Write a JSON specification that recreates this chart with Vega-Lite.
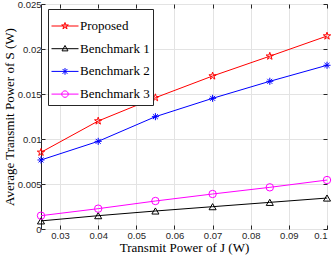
{
  "$schema": "https://vega.github.io/schema/vega-lite/v6.json",
  "width": 286,
  "height": 225,
  "autosize": {"type": "none"},
  "padding": {"left": 41, "top": 4, "right": 5, "bottom": 30},
  "background": "white",
  "config": {"view": {"stroke": "#262626", "strokeWidth": 1}},
  "data": {"values": [
    {"x": 0.025, "y": 0.00852, "series": "Proposed"},
    {"x": 0.04, "y": 0.0120, "series": "Proposed"},
    {"x": 0.055, "y": 0.01459, "series": "Proposed"},
    {"x": 0.07, "y": 0.0170, "series": "Proposed"},
    {"x": 0.085, "y": 0.0192, "series": "Proposed"},
    {"x": 0.1, "y": 0.02144, "series": "Proposed"},
    {"x": 0.025, "y": 0.0009, "series": "Benchmark 1"},
    {"x": 0.04, "y": 0.00148, "series": "Benchmark 1"},
    {"x": 0.055, "y": 0.0020, "series": "Benchmark 1"},
    {"x": 0.07, "y": 0.00248, "series": "Benchmark 1"},
    {"x": 0.085, "y": 0.00296, "series": "Benchmark 1"},
    {"x": 0.1, "y": 0.00344, "series": "Benchmark 1"},
    {"x": 0.025, "y": 0.00767, "series": "Benchmark 2"},
    {"x": 0.04, "y": 0.00974, "series": "Benchmark 2"},
    {"x": 0.055, "y": 0.01248, "series": "Benchmark 2"},
    {"x": 0.07, "y": 0.01452, "series": "Benchmark 2"},
    {"x": 0.085, "y": 0.01641, "series": "Benchmark 2"},
    {"x": 0.1, "y": 0.01819, "series": "Benchmark 2"},
    {"x": 0.025, "y": 0.00148, "series": "Benchmark 3"},
    {"x": 0.04, "y": 0.00226, "series": "Benchmark 3"},
    {"x": 0.055, "y": 0.00311, "series": "Benchmark 3"},
    {"x": 0.07, "y": 0.00389, "series": "Benchmark 3"},
    {"x": 0.085, "y": 0.00463, "series": "Benchmark 3"},
    {"x": 0.1, "y": 0.00544, "series": "Benchmark 3"}
  ]},
  "layer": [
    {
      "mark": {"type": "line", "strokeWidth": 1},
      "encoding": {
        "x": {
          "field": "x", "type": "quantitative",
          "scale": {"domain": [0.025, 0.1], "nice": false, "zero": false},
          "axis": {
            "orient": "bottom",
            "values": [0.03, 0.04, 0.05, 0.06, 0.07, 0.08, 0.09, 0.1],
            "format": ".2~f",
            "grid": true, "gridColor": "#e3e3e3", "domain": false,
            "tickSize": -4, "tickColor": "#262626",
            "labelFont": "Liberation Sans", "labelFontSize": 9.5, "labelColor": "#262626", "labelPadding": 5,
            "title": "Transmit Power of J (W)",
            "titleFont": "Liberation Serif", "titleFontSize": 13, "titleFontWeight": "normal", "titleColor": "black", "titlePadding": 2
          }
        },
        "y": {
          "field": "y", "type": "quantitative",
          "scale": {"domain": [0, 0.025], "nice": false, "zero": true},
          "axis": {
            "orient": "left",
            "values": [0, 0.005, 0.01, 0.015, 0.02, 0.025],
            "format": ".3~f",
            "grid": true, "gridColor": "#e3e3e3", "domain": false,
            "tickSize": -4, "tickColor": "#262626",
            "labelFont": "Liberation Sans", "labelFontSize": 9.5, "labelColor": "#262626", "labelPadding": 4,
            "title": "Average Transmit Power of S (W)",
            "titleFont": "Liberation Serif", "titleFontSize": 13, "titleFontWeight": "normal", "titleColor": "black", "titlePadding": 1
          }
        },
        "stroke": {
          "field": "series", "type": "nominal",
          "scale": {
            "domain": ["Proposed", "Benchmark 1", "Benchmark 2", "Benchmark 3"],
            "range": ["#ff0000", "#000000", "#0000ff", "#ff00ff"]
          },
          "legend": {
            "orient": "none", "legendX": 7, "legendY": 5, "title": null,
            "padding": 3, "rowPadding": 1.7,
            "strokeColor": "#262626", "fillColor": "white", "cornerRadius": 0,
            "symbolSize": 729, "symbolStrokeWidth": 1, "symbolOpacity": 1,
            "labelOffset": 1, "labelFont": "Liberation Serif", "labelFontSize": 13, "labelColor": "black"
          }
        }
      }
    },
    {
      "transform": [{"filter": "datum.series === 'Proposed'"}],
      "mark": {"type": "point", "filled": false, "size": 60, "strokeWidth": 1, "opacity": 1, "color": "#ff0000",
               "shape": "M0,-1L0.2245,-0.309L0.951,-0.309L0.363,0.118L0.588,0.809L0,0.382L-0.588,0.809L-0.363,0.118L-0.951,-0.309L-0.2245,-0.309Z"},
      "encoding": {
        "x": {
          "field": "x", "type": "quantitative",
          "axis": {
            "orient": "top",
            "values": [0.03, 0.04, 0.05, 0.06, 0.07, 0.08, 0.09, 0.1],
            "labels": false, "grid": false, "domain": false, "title": null,
            "tickSize": -4, "tickColor": "#262626"
          }
        },
        "y": {
          "field": "y", "type": "quantitative",
          "axis": {
            "orient": "right",
            "values": [0, 0.005, 0.01, 0.015, 0.02, 0.025],
            "labels": false, "grid": false, "domain": false, "title": null,
            "tickSize": -4, "tickColor": "#262626"
          }
        }
      }
    },
    {
      "transform": [{"filter": "datum.series === 'Benchmark 1'"}],
      "mark": {"type": "point", "filled": false, "size": 50, "strokeWidth": 1, "opacity": 1, "color": "#000000", "shape": "triangle-up"},
      "encoding": {
        "x": {"field": "x", "type": "quantitative", "axis": null},
        "y": {"field": "y", "type": "quantitative", "axis": null}
      }
    },
    {
      "transform": [{"filter": "datum.series === 'Benchmark 2'"}],
      "mark": {"type": "point", "filled": false, "size": 50, "strokeWidth": 1, "opacity": 1, "color": "#0000ff",
               "shape": "M-1,0L1,0M0,-1L0,1M-0.7,-0.7L0.7,0.7M-0.7,0.7L0.7,-0.7"},
      "encoding": {
        "x": {"field": "x", "type": "quantitative", "axis": null},
        "y": {"field": "y", "type": "quantitative", "axis": null}
      }
    },
    {
      "transform": [{"filter": "datum.series === 'Benchmark 3'"}],
      "mark": {"type": "point", "filled": false, "size": 55, "strokeWidth": 1, "opacity": 1, "color": "#ff00ff", "shape": "circle"},
      "encoding": {
        "x": {"field": "x", "type": "quantitative", "axis": null},
        "y": {"field": "y", "type": "quantitative", "axis": null}
      }
    },
    {
      "mark": {"type": "point", "filled": false, "strokeWidth": 1, "opacity": 0},
      "encoding": {
        "x": {"field": "x", "type": "quantitative", "axis": null},
        "y": {"field": "y", "type": "quantitative", "axis": null},
        "stroke": {
          "field": "series", "type": "nominal",
          "legend": {
            "orient": "none", "legendX": 7, "legendY": 5, "title": null,
            "padding": 3, "rowPadding": 1.7,
            "strokeColor": "#262626", "fillColor": "white", "cornerRadius": 0,
            "symbolSize": 729, "symbolStrokeWidth": 1, "symbolOpacity": 1,
            "labelOffset": 1, "labelFont": "Liberation Serif", "labelFontSize": 13, "labelColor": "black"
          }
        },
        "shape": {
          "field": "series", "type": "nominal",
          "scale": {
            "domain": ["Proposed", "Benchmark 1", "Benchmark 2", "Benchmark 3"],
            "range": [
              "M-1,0L1,0M0,-0.26L0.058,-0.08L0.247,-0.08L0.094,0.031L0.153,0.21L0,0.099L-0.153,0.21L-0.094,0.031L-0.247,-0.08L-0.058,-0.08Z",
              "M-1,0L1,0M0,-0.24L0.22,0.16L-0.22,0.16Z",
              "M-1,0L1,0M0,-0.25L0,0.25M-0.18,-0.18L0.18,0.18M-0.18,0.18L0.18,-0.18",
              "M-1,0L1,0M0.24,0A0.24,0.24 0 1,1 -0.24,0A0.24,0.24 0 1,1 0.24,0Z"
            ]
          },
          "legend": {
            "orient": "none", "legendX": 7, "legendY": 5, "title": null,
            "padding": 3, "rowPadding": 1.7,
            "strokeColor": "#262626", "fillColor": "white", "cornerRadius": 0,
            "symbolSize": 729, "symbolStrokeWidth": 1, "symbolOpacity": 1,
            "labelOffset": 1, "labelFont": "Liberation Serif", "labelFontSize": 13, "labelColor": "black"
          }
        }
      }
    }
  ],
  "resolve": {
    "axis": {"x": "independent", "y": "independent"}
  }
}
